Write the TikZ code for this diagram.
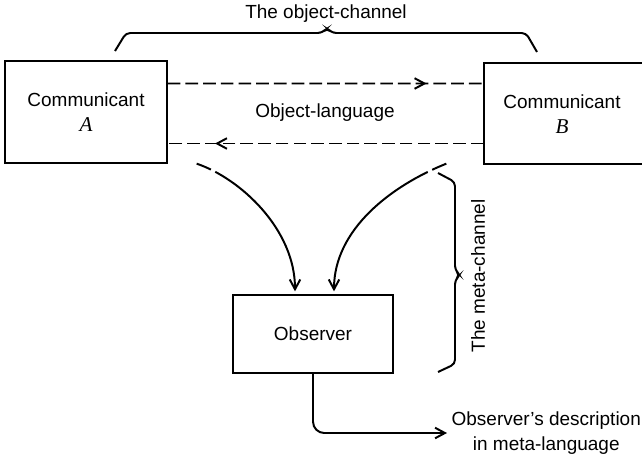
\documentclass[tikz,border=0pt]{standalone}
\usepackage{fontspec}
\setmainfont{Liberation Sans}
\newfontfamily\nameit{Liberation Serif}
\usetikzlibrary{arrows.meta,calc,decorations.markings}

\begin{document}
\begin{tikzpicture}[
    x = 0.025cm, y = -0.025cm, % one unit = one pixel, y downwards
    > = {Straight Barb[length=7pt,width=7.5pt]}, % open arrow head
    font = \fontsize{13.5}{17.8}\selectfont,
    semithick % line style
  ]

  \tikzset{
    box/.style = {draw = black, line width = 0.9pt, inner sep = 0pt},
    link/.style = {line width = 1.4pt, dash pattern = on 9pt off 3.6pt},
    feed/.style = {line width = 1.4pt, ->,
      dash pattern = on 11pt off 3.5pt on 400pt off 1pt},
    brace/.style = {line width = 1.4pt, rounded corners = 3pt},
    midarrow/.style = {postaction = {decorate, decoration = {markings,
      mark = at position #1 with {\arrow{>}}}}}
  }

  \useasboundingbox (0,0) rectangle (642,454);

  % the three boxes
  \node[box, minimum width = 4.05cm, minimum height = 2.55cm, align = center]
    (A) at (86,112) {Communicant\\{\nameit\itshape\fontsize{15}{17.8}\selectfont A}};
  \node[box, minimum width = 5cm, minimum height = 2.525cm] (B) at (584,113.5) {};
  \node[align = center] (Btext) at (562,114)
    {Communicant\\{\nameit\itshape\fontsize{15}{17.8}\selectfont B}};
  \node[box, minimum width = 4cm, minimum height = 1.95cm] (O) at (313,334) {Observer};

  % object-channel
  \draw[link, midarrow=0.82] ($(A.east)+(0,-28.5)$) -- ($(B.west)+(0,-30)$);
  \draw[link, midarrow=0.85] ($(B.west)+(0,30)$) -- ($(A.east)+(0,31.5)$);
  \node (lang) at (325,113) {Object-language};

  \draw[brace] (115,51) -- (126,33) -- (322,33) -- (327,28) -- (332,33)
    -- (526,33) -- (537,52);
  \node (objch) at (326,14) {The object-channel};

  % meta-channel
  \coordinate (A-tap) at ($(A.south east)+(29,0)$);
  \coordinate (B-tap) at ($(B.south west)+(-37,-1)$);
  \draw[feed] (A-tap) .. controls +(44,15) and +(0,-62) .. ($(O.north)+(-18,-3)$);
  \draw[feed] (B-tap) .. controls +(-55,22) and +(0,-62) .. ($(O.north)+(21,-3)$);

  \draw[brace] (438,173) -- (455,182) -- (455,270) -- (460,275) -- (455,280)
    -- (455,364) -- (438,372);
  \node[rotate = 90] (meta) at (478,276) {The meta-channel};

  % output of the observer
  \node[anchor = west, align = center, inner xsep = 3pt] (desc) at (447,433)
    {Observer’s description\\in meta-language};
  \draw[line width = 1.4pt, ->, rounded corners = 8pt] (O.south) |- (desc.west);
\end{tikzpicture}
\end{document}
